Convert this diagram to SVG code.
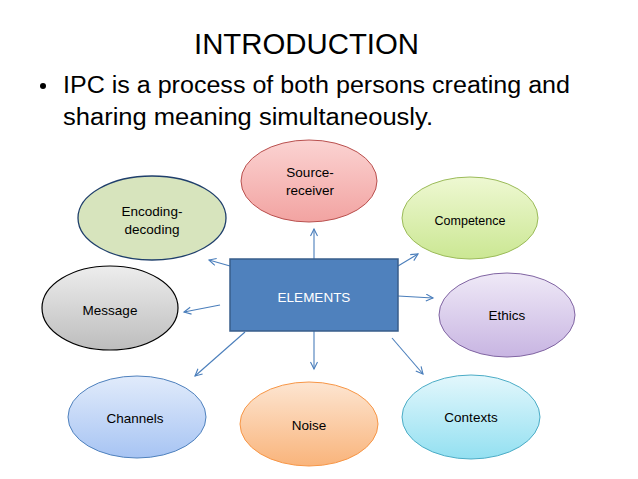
<svg xmlns="http://www.w3.org/2000/svg" width="638" height="479" viewBox="0 0 638 479">
<style>
text{font-family:"Liberation Sans",Arial,sans-serif;fill:#000}
.h{font-size:30px}
.b{font-size:23px}
.l{font-size:13.5px;text-anchor:middle}
.w{fill:#fff}
.c{stroke:#4a7ebb;stroke-width:1.1;fill:none;marker-end:url(#ah)}
</style>
<defs>
<marker id="ah" markerWidth="10" markerHeight="10" refX="8" refY="4" orient="auto" markerUnits="userSpaceOnUse">
<path d="M1,0.5 L8,4 L1,7.5" fill="none" stroke="#4a7ebb" stroke-width="1.1"/>
</marker>
<linearGradient id="gPink" x1="0" y1="0" x2="0" y2="1"><stop offset="0" stop-color="#fbd3d2"/><stop offset="1" stop-color="#f2a3a1"/></linearGradient>
<linearGradient id="gGreen" x1="0" y1="0" x2="0" y2="1"><stop offset="0" stop-color="#eef8d2"/><stop offset="1" stop-color="#cbe793"/></linearGradient>
<linearGradient id="gPurple" x1="0" y1="0" x2="0" y2="1"><stop offset="0" stop-color="#efe9f7"/><stop offset="1" stop-color="#c8b5e2"/></linearGradient>
<linearGradient id="gGray" x1="0" y1="0" x2="0" y2="1"><stop offset="0" stop-color="#ededed"/><stop offset="1" stop-color="#bdbdbd"/></linearGradient>
<linearGradient id="gBlue" x1="0" y1="0" x2="0" y2="1"><stop offset="0" stop-color="#e1ebfb"/><stop offset="1" stop-color="#a7c4f3"/></linearGradient>
<linearGradient id="gOrange" x1="0" y1="0" x2="0" y2="1"><stop offset="0" stop-color="#fde5d1"/><stop offset="1" stop-color="#f9b47b"/></linearGradient>
<linearGradient id="gCyan" x1="0" y1="0" x2="0" y2="1"><stop offset="0" stop-color="#e3f7fc"/><stop offset="1" stop-color="#93e0f1"/></linearGradient>
</defs>
<rect width="638" height="479" fill="#fff"/>
<g id="title">
<text class="h" x="194" y="54" textLength="225" lengthAdjust="spacingAndGlyphs">INTRODUCTION</text>
<circle cx="43" cy="86" r="3" fill="#000"/>
<text class="b" x="63" y="93" textLength="507" lengthAdjust="spacingAndGlyphs">IPC is a process of both persons creating and</text>
<text class="b" x="63" y="125" textLength="370" lengthAdjust="spacingAndGlyphs">sharing meaning simultaneously.</text>
</g>
<g id="connectors">
<line class="c" x1="314" y1="259" x2="314" y2="229"/>
<line class="c" x1="314" y1="331" x2="314" y2="369"/>
<line class="c" x1="230" y1="266" x2="209" y2="260"/>
<line class="c" x1="220" y1="305" x2="184" y2="312"/>
<line class="c" x1="398" y1="266" x2="418" y2="254"/>
<line class="c" x1="398" y1="296" x2="433" y2="298"/>
<line class="c" x1="245" y1="332" x2="195" y2="376"/>
<line class="c" x1="392" y1="338" x2="423" y2="374"/>
</g>
<g id="elements">
<rect x="230" y="259" width="168" height="72" fill="#4f81bd" stroke="#385d8a" stroke-width="1.5"/>
<text class="l w" x="314" y="302">ELEMENTS</text>
</g>
<g id="source-receiver">
<ellipse cx="309" cy="181" rx="68" ry="41" fill="url(#gPink)" stroke="#b9504e" stroke-width="1"/>
<text class="l" x="310" y="177">Source-</text>
<text class="l" x="310" y="195">receiver</text>
</g>
<g id="encoding-decoding">
<ellipse cx="152" cy="218" rx="74" ry="42" fill="#d7e4bd" stroke="#1f3f6b" stroke-width="1.3"/>
<text class="l" x="152" y="216">Encoding-</text>
<text class="l" x="152" y="234">decoding</text>
</g>
<g id="message">
<ellipse cx="110" cy="308" rx="68" ry="42" fill="url(#gGray)" stroke="#000" stroke-width="1.2"/>
<text class="l" x="110" y="315">Message</text>
</g>
<g id="competence">
<ellipse cx="470" cy="218" rx="68" ry="41" fill="url(#gGreen)" stroke="#9bbb59" stroke-width="1"/>
<text class="l" x="470" y="225" style="font-size:12.5px">Competence</text>
</g>
<g id="ethics">
<ellipse cx="507" cy="315" rx="68" ry="42" fill="url(#gPurple)" stroke="#8064a2" stroke-width="1"/>
<text class="l" x="507" y="320">Ethics</text>
</g>
<g id="channels">
<ellipse cx="137" cy="417" rx="69" ry="41" fill="url(#gBlue)" stroke="#4f81bd" stroke-width="1"/>
<text class="l" x="135" y="423">Channels</text>
</g>
<g id="noise">
<ellipse cx="309" cy="424" rx="69" ry="42" fill="url(#gOrange)" stroke="#f79646" stroke-width="1"/>
<text class="l" x="309" y="430">Noise</text>
</g>
<g id="contexts">
<ellipse cx="471" cy="417" rx="69" ry="42" fill="url(#gCyan)" stroke="#4bacc6" stroke-width="1"/>
<text class="l" x="471" y="422">Contexts</text>
</g>
</svg>
